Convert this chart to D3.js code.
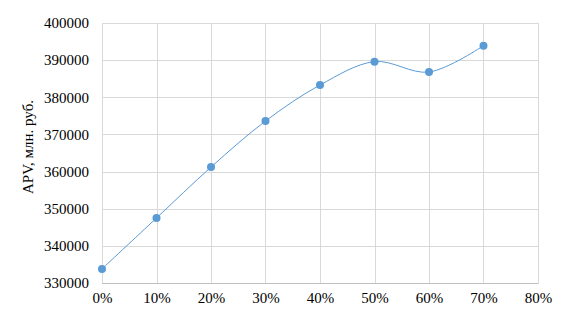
<!DOCTYPE html>
<html>
<head>
<meta charset="utf-8">
<script src="https://cdn.jsdelivr.net/npm/d3@7"></script>
<style>
  body { margin: 0; background: #fff; }
  svg { display: block; }
  .tick text { font-family: "Liberation Serif", "Times New Roman", serif; font-size: 15px; fill: #000; }
</style>
</head>
<body>
<svg id="chart" width="575" height="315"></svg>
<script>
// shares (x) and APV values (y)
var shares = [0, 0.1, 0.2, 0.3, 0.4, 0.5, 0.6, 0.7]
var apvValues = [333800, 347500, 361200, 373600, 383300, 389600, 386800, 393900]
var xTicks = [0, 0.1, 0.2, 0.3, 0.4, 0.5, 0.6, 0.7, 0.8]
var yTicks = [330000, 340000, 350000, 360000, 370000, 380000, 390000, 400000]
var yLabel = "APV, млн. руб."

var svg = d3.select("#chart")
const margins = {top: 23, right: 37, bottom: 32, left: 102}
var width = 575 - margins.left - margins.right
var height = 315 - margins.top - margins.bottom

var xScale = d3.scaleLinear().domain([0, 0.8]).range([0, width])
var yScale = d3.scaleLinear().domain([330000, 400000]).range([height, 0])

var g = svg.append("g")
    .attr("transform", "translate(" + margins.left + "," + margins.top + ")")

// grid
g.append("g").selectAll("line.h")
    .data(yTicks).enter()
    .append("line")
    .attr("x1", 0).attr("x2", width)
    .attr("y1", d => Math.round(yScale(d)) + 0.5)
    .attr("y2", d => Math.round(yScale(d)) + 0.5)
    .attr("stroke", "#d9d9d9").attr("stroke-width", 1)

g.append("g").selectAll("line.v")
    .data(xTicks).enter()
    .append("line")
    .attr("y1", 0).attr("y2", height)
    .attr("x1", d => Math.round(xScale(d)) + 0.5)
    .attr("x2", d => Math.round(xScale(d)) + 0.5)
    .attr("stroke", "#d9d9d9").attr("stroke-width", 1)

// axes (labels only)
var xAxis = d3.axisBottom(xScale)
    .tickValues(xTicks)
    .tickFormat(d3.format(".0%"))
    .tickSize(0).tickPadding(9)
g.append("g")
    .attr("transform", "translate(0," + height + ")")
    .call(xAxis)
    .call(a => a.select(".domain").attr("stroke", "#bfbfbf"))

var yAxis = d3.axisLeft(yScale)
    .tickValues(yTicks)
    .tickFormat(d3.format("d"))
    .tickSize(0).tickPadding(13)
g.append("g")
    .call(yAxis)
    .call(a => a.select(".domain").remove())

// y title
svg.append("text")
    .attr("transform", "translate(33," + (margins.top + height / 2 - 6) + ") rotate(-90)")
    .attr("text-anchor", "middle")
    .style("font-family", "'Liberation Serif', 'Times New Roman', serif")
    .style("font-size", "15px")
    .text(yLabel)

// line + markers
var data = shares.map((s, i) => ({x: s, y: apvValues[i]}))

g.append("path")
    .datum(data)
    .attr("fill", "none")
    .attr("stroke", "#5b9bd5")
    .attr("stroke-width", 1)
    .attr("d", d3.line()
        .x(d => xScale(d.x))
        .y(d => yScale(d.y))
        .curve(d3.curveCatmullRom.alpha(0.5)))

g.selectAll("circle.pt")
    .data(data).enter()
    .append("circle")
    .attr("cx", d => xScale(d.x))
    .attr("cy", d => yScale(d.y))
    .attr("r", 4)
    .attr("fill", "#5b9bd5")
</script>
</body>
</html>
